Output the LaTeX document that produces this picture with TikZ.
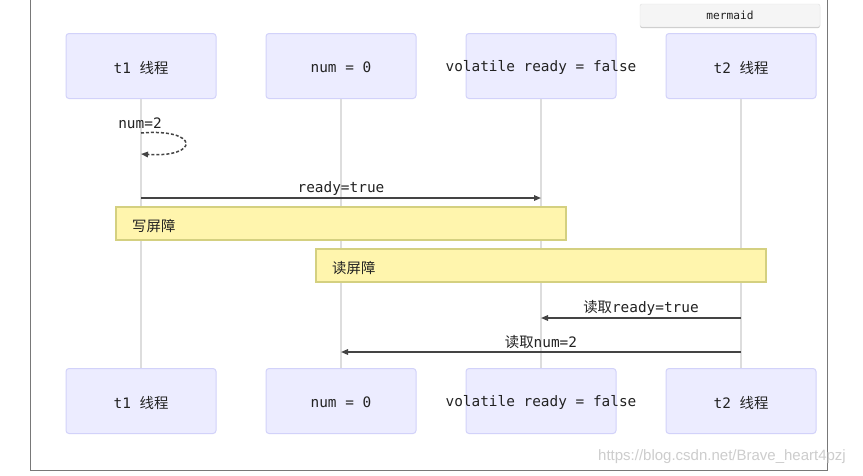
\documentclass[tikz,border=0pt]{standalone}
\usepackage{fontspec}
\setmonofont{DejaVu Sans Mono}
\newfontfamily\cjkf{Noto Sans CJK SC}
\newfontfamily\wmf{Liberation Sans}
\usetikzlibrary{arrows.meta}
\definecolor{actfill}{RGB}{236,236,255}
\definecolor{actdraw}{RGB}{210,210,250}
\definecolor{lifec}{RGB}{221,221,221}
\definecolor{notefill}{RGB}{255,245,173}
\definecolor{notedraw}{RGB}{212,208,128}
\definecolor{msgc}{RGB}{68,68,68}
\definecolor{txtc}{RGB}{34,34,34}
\definecolor{framec}{RGB}{120,120,120}
\definecolor{badgeshadow}{RGB}{200,200,200}
\definecolor{badgedraw}{RGB}{225,225,225}
\definecolor{badgefill}{RGB}{245,245,245}
\definecolor{wmc}{RGB}{205,205,205}
\newcommand{\zh}[1]{{\cjkf #1}}
\begin{document}
\begin{tikzpicture}[x=1pt,y=-1pt,
  actor/.style={draw=actdraw,fill=actfill,line width=1pt,rounded corners=3pt,
    minimum width=150pt,minimum height=65pt,inner sep=0pt},
  txt/.style={font=\fontsize{14.4}{16}\selectfont\ttfamily,text=txtc,inner sep=0pt,yshift=-1.5pt},
  life/.style={draw=lifec,line width=1.6pt},
  notebox/.style={draw=notedraw,fill=notefill,line width=1.3pt,
    minimum width=450pt,minimum height=33pt,inner sep=0pt},
  msg/.style={draw=msgc,line width=1.5pt,-{Triangle[length=7pt,width=5.5pt]}},
  selfmsg/.style={draw=msgc,line width=1.5pt,dash pattern=on 3pt off 2pt,
    -{Triangle[length=7pt,width=5.5pt]}}]
\useasboundingbox (0,0) rectangle (863,475);
\fill[white] (0,0) rectangle (863,475);

% frame
\draw[framec,line width=1.2pt] (30.5,0) -- (30.5,470.5) -- (827.5,470.5) -- (827.5,0);

% mermaid badge
\fill[badgeshadow,rounded corners=2pt] (640,5) rectangle (820,28);
\node[draw=badgedraw,fill=badgefill,
  rounded corners=2pt,minimum width=180pt,minimum height=23pt,inner sep=0pt,
  font=\fontsize{11.2}{13}\selectfont\ttfamily,text=txtc] (badge) at (730,15.5) {mermaid};

% actors top
\node[actor] (a1) at (141,66) {};
\node[actor] (a2) at (341,66) {};
\node[actor] (a3) at (541,66) {};
\node[actor] (a4) at (741,66) {};
% actors bottom
\node[actor] (b1) at (141,401) {};
\node[actor] (b2) at (341,401) {};
\node[actor] (b3) at (541,401) {};
\node[actor] (b4) at (741,401) {};

% lifelines
\draw[life] (a1.south) -- (b1.north);
\draw[life] (a2.south) -- (b2.north);
\draw[life] (a3.south) -- (b3.north);
\draw[life] (a4.south) -- (b4.north);

% actor texts
\node[txt] (ta1) at (a1.center) {t1 \zh{线程}};
\node[txt] (ta2) at (a2.center) {num = 0};
\node[txt] (ta3) at (a3.center) {volatile ready = false};
\node[txt] (ta4) at (a4.center) {t2 \zh{线程}};
\node[txt] (tb1) at (b1.center) {t1 \zh{线程}};
\node[txt] (tb2) at (b2.center) {num = 0};
\node[txt] (tb3) at (b3.center) {volatile ready = false};
\node[txt] (tb4) at (b4.center) {t2 \zh{线程}};

% self message
\coordinate (s1) at (141,133);
\coordinate (s2) at (141,154);
\node[txt] (ls) at (140,122) {num=2};
\draw[selfmsg] (s1) .. controls (200,128) and (200,158) .. (s2);

% message ready=true
\coordinate (m1s) at (141,198);
\coordinate (m1e) at (541,198);
\node[txt] (l1) at (341,187) {ready=true};
\draw[msg] (m1s) -- (m1e);

% notes
\node[notebox] (n1) at (341,223.5) {};
\node[txt,anchor=west] (tn1) at (132,225) {\zh{写屏障}};
\node[notebox] (n2) at (541,265.5) {};
\node[txt,anchor=west] (tn2) at (332,267) {\zh{读屏障}};

% message 读取ready=true
\coordinate (m2s) at (741,318);
\coordinate (m2e) at (541,318);
\node[txt] (l2) at (641,306) {\zh{读取}ready=true};
\draw[msg] (m2s) -- (m2e);

% message 读取num=2
\coordinate (m3s) at (741,352);
\coordinate (m3e) at (341,352);
\node[txt] (l3) at (541,341) {\zh{读取}num=2};
\draw[msg] (m3s) -- (m3e);

% watermark
\node[font=\fontsize{15}{17}\selectfont\wmf,text=wmc,inner sep=0pt]
  (wm) at (722,457) {https://blog.csdn.net/Brave\_heart4pzj};
\end{tikzpicture}
\end{document}
